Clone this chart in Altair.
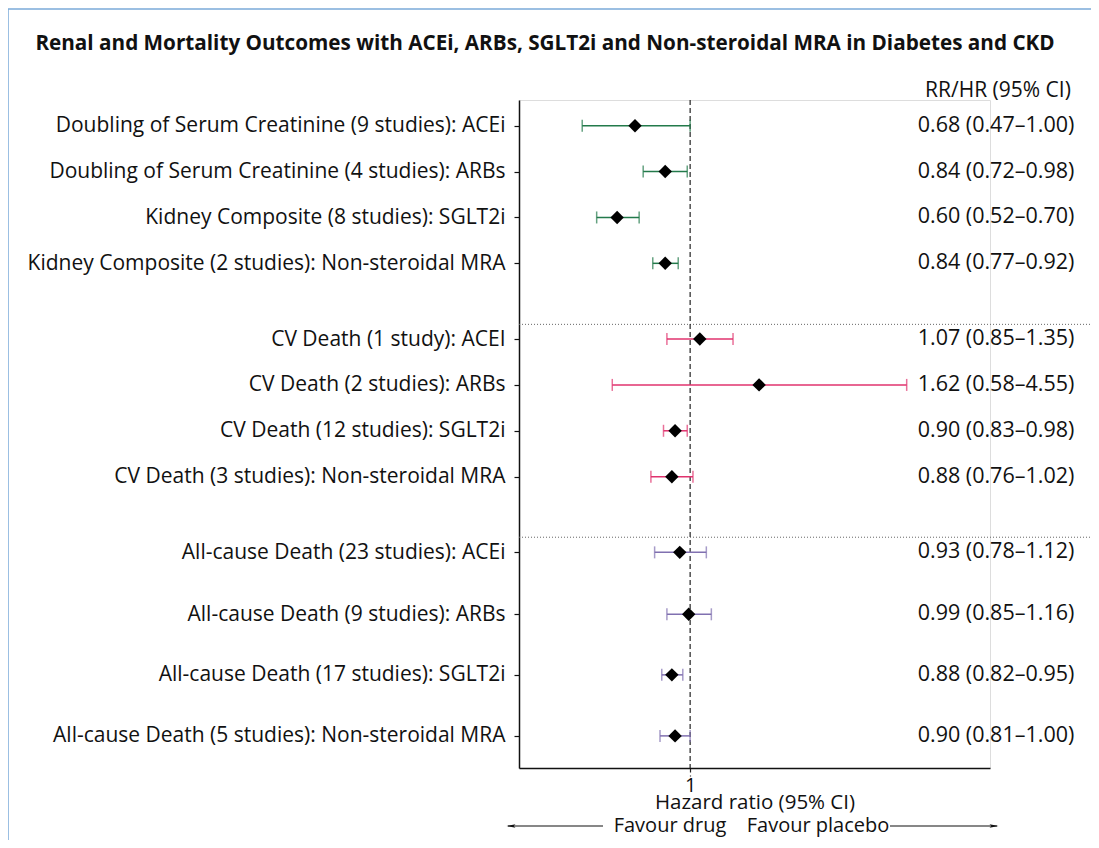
import json
import altair as alt
import pandas as pd

# ---- data ----
labels = [
    "Doubling of Serum Creatinine (9 studies): ACEi",
    "Doubling of Serum Creatinine (4 studies): ARBs",
    "Kidney Composite (8 studies): SGLT2i",
    "Kidney Composite (2 studies): Non-steroidal MRA",
    "CV Death (1 study): ACEI",
    "CV Death (2 studies): ARBs",
    "CV Death (12 studies): SGLT2i",
    "CV Death (3 studies): Non-steroidal MRA",
    "All-cause Death (23 studies): ACEi",
    "All-cause Death (9 studies): ARBs",
    "All-cause Death (17 studies): SGLT2i",
    "All-cause Death (5 studies): Non-steroidal MRA",
]
hr = [0.68, 0.84, 0.60, 0.84, 1.07, 1.62, 0.90, 0.88, 0.93, 0.99, 0.88, 0.90]
lo = [0.47, 0.72, 0.52, 0.77, 0.85, 0.58, 0.83, 0.76, 0.78, 0.85, 0.82, 0.81]
hi = [1.00, 0.98, 0.70, 0.92, 1.35, 4.55, 0.98, 1.02, 1.12, 1.16, 0.95, 1.00]
group = ["Renal"] * 4 + ["CV Death"] * 4 + ["All-cause Death"] * 4
row = [1, 2, 3, 4, 5.65, 6.65, 7.65, 8.65, 10.3, 11.65, 12.97, 14.3]
separators = [5.33, 9.97]

group_names = ["Renal", "CV Death", "All-cause Death"]
group_colors = ["#237a4b", "#e0336e", "#8070b0"]

title_text = "Renal and Mortality Outcomes with ACEi, ARBs, SGLT2i and Non-steroidal MRA in Diabetes and CKD"
FONT = "Open Sans"
FS = 20
LFS = 21

df = pd.DataFrame({
    "label": labels, "hr": hr, "lo": lo, "hi": hi, "group": group, "row": row,
})
df["ci"] = [f"{h:.2f} ({l:.2f}\u2013{u:.2f})" for h, l, u in zip(hr, lo, hi)]
sep_df = pd.DataFrame({"row": separators})

W, H = 471, 668
xscale = alt.Scale(type="log", domain=[0.302, 8.15], nice=False)
yscale = alt.Scale(domain=[0.44, 15.0], reverse=True, nice=False, zero=False)
cscale = alt.Scale(domain=group_names, range=group_colors)

label_expr = f"{json.dumps(labels)}[indexof({json.dumps(row)}, datum.value)]"

base = alt.Chart(df)

bars = base.mark_rule(strokeWidth=1.5).encode(
    x=alt.X("lo:Q", scale=xscale,
            axis=alt.Axis(values=[1], labelExpr="'1'", title="Hazard ratio (95% CI)",
                          tickSize=8, tickColor="#222", tickDash=[4, 3], tickWidth=1.2,
                          domainColor="#111", domainWidth=1.5, grid=False,
                          labelFontSize=FS, labelColor="#111", labelFont=FONT, labelPadding=-1,
                          titleFontSize=20.5, titleFontWeight="normal", titleFont=FONT,
                          titleColor="#111", titlePadding=-3)),
    x2="hi:Q",
    y=alt.Y("row:Q", scale=yscale,
            axis=alt.Axis(values=row, labelExpr=label_expr, title=None, grid=False,
                          tickSize=5, tickColor="#111", tickWidth=1.2,
                          domainColor="#111", domainWidth=1.5,
                          labelFontSize=LFS, labelColor="#111", labelFont=FONT,
                          labelPadding=9, labelLimit=700)),
    color=alt.Color("group:N", scale=cscale, legend=None),
)

caps = base.transform_fold(["lo", "hi"], as_=["end", "val"]).mark_tick(
    orient="vertical", size=12, thickness=1.5
).encode(
    x=alt.X("val:Q", scale=xscale),
    y=alt.Y("row:Q", scale=yscale),
    color=alt.Color("group:N", scale=cscale, legend=None),
)

points = base.mark_point(shape="diamond", filled=True, size=180, color="black", opacity=1).encode(
    x=alt.X("hr:Q", scale=xscale),
    y=alt.Y("row:Q", scale=yscale),
)

ref = alt.Chart(pd.DataFrame({"v": [1]})).mark_rule(
    strokeDash=[5, 3], color="#222", strokeWidth=1.2
).encode(x=alt.X("v:Q", scale=xscale), y=alt.value(0), y2=alt.value(H))

seps = alt.Chart(sep_df).mark_rule(strokeDash=[1, 2], color="#666", strokeWidth=1).encode(
    y=alt.Y("row:Q", scale=yscale), x=alt.value(0), x2=alt.value(580)
)

ci_text = base.mark_text(align="center", baseline="middle", fontSize=21.5, font=FONT, color="#111").encode(
    y=alt.Y("row:Q", scale=yscale), x=alt.value(477), text="ci:N"
)

header = alt.Chart(pd.DataFrame({"t": ["RR/HR (95% CI)"]})).mark_text(
    align="center", baseline="middle", fontSize=LFS, font=FONT, color="#111"
).encode(x=alt.value(479), y=alt.value(-9), text="t:N")

title = alt.Chart(pd.DataFrame({"t": [title_text]})).mark_text(
    align="center", baseline="middle", fontSize=20.7, font=FONT, fontWeight="bold", color="#111"
).encode(x=alt.value(26), y=alt.value(-56), text="t:N")

favour = alt.Chart(pd.DataFrame({"t": ["Favour drug", "Favour placebo"],
                                 "px": [151, 299]})).mark_text(
    align="center", baseline="middle", fontSize=FS, font=FONT, color="#111"
).encode(x=alt.X("px:Q", scale=None), y=alt.value(726), text="t:N")

arrow_lines = alt.Chart(pd.DataFrame({"a": [-11, 371], "b": [84, 478]})).mark_rule(
    color="#111", strokeWidth=1.2
).encode(x=alt.X("a:Q", scale=None), x2="b:Q", y=alt.value(726))

arrow_heads = alt.Chart(pd.DataFrame({"a": [-8, 475], "s": ["left", "right"]})).mark_point(
    filled=True, color="#111", opacity=1, size=80
).encode(
    x=alt.X("a:Q", scale=None), y=alt.value(726),
    shape=alt.Shape("s:N", scale=alt.Scale(domain=["left", "right"],
                                          range=["M1,-0.4L-1,0L1,0.4L0.6,0Z", "M-1,-0.4L1,0L-1,0.4L-0.6,0Z"]),
                    legend=None),
)

frame = alt.Chart(pd.DataFrame({"x1": [-511, -511], "x2": [-511, 600],
                                "y1": [-91, -91], "y2": [760, -91]})).mark_rule(
    color="#7aaad8", strokeWidth=1.5
).encode(x=alt.X("x1:Q", scale=None), x2="x2:Q", y=alt.Y("y1:Q", scale=None), y2="y2:Q")

chart = alt.layer(
    frame, seps, ref, bars, caps, points, ci_text, header, title, favour, arrow_lines, arrow_heads
).properties(
    width=W, height=H,
    autosize=alt.AutoSizeParams(type="none"),
    padding={"left": 511, "top": 92, "right": 101, "bottom": 72},
).configure_view(stroke=None).configure(background="white")

chart.save("out.html", embed_options={"renderer": "svg", "actions": False})
